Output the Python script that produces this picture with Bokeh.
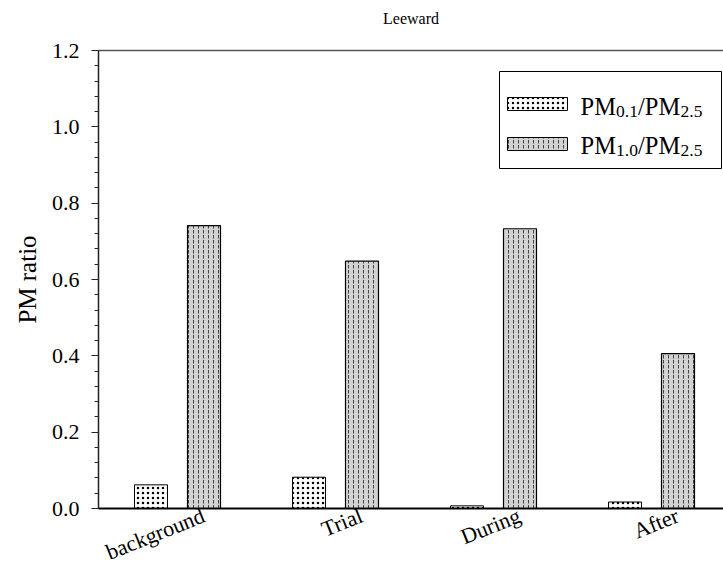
import numpy as np
from bokeh.plotting import figure
from bokeh.models import (Range1d, LinearAxis, FixedTicker,
                          NumeralTickFormatter, ColumnDataSource, Label,
                          BoxAnnotation)
from bokeh.transform import dodge
from bokeh.embed import file_html
from bokeh.resources import INLINE

# ---- data ----
categories = ["background", "Trial", "During", "After"]
pm01_pm25 = [0.062, 0.082, 0.007, 0.017]
pm10_pm25 = [0.741, 0.648, 0.733, 0.406]
y_ticks = [0.0, 0.2, 0.4, 0.6, 0.8, 1.0, 1.2]
title_text = "Leeward"
y_label = "PM ratio"
legend_parts = [("PM", "0.1", "/PM", "2.5"), ("PM", "1.0", "/PM", "2.5")]

FONT = "Liberation Serif"

x_pos = list(range(1, len(categories) + 1))
src = ColumnDataSource(dict(x=x_pos, cat=categories, a=pm01_pm25, b=pm10_pm25))

X0, X1 = 0.5, 0.5 + 625 / 158
p = figure(width=723, height=579, output_backend="svg", toolbar_location=None,
           x_range=Range1d(X0, X1), y_range=Range1d(0, 1.2),
           min_border_left=98, min_border_right=0, min_border_top=50,
           min_border_bottom=71)
p.background_fill_color = "white"
p.border_fill_color = "white"
p.outline_line_color = None
p.xgrid.visible = False
p.ygrid.visible = False

# x axis: category labels, rotated; label range shifted so right-aligned text
# ends a little right of the group centre
shift = 26 / 158
p.extra_x_ranges = {"lab": Range1d(X0 - shift, X1 - shift)}
xa = p.xaxis[0]
xa.x_range_name = "lab"
xa.ticker = FixedTicker(ticks=x_pos)
xa.major_label_overrides = {x: c for x, c in zip(x_pos, categories)}
xa.major_label_orientation = 0.38
xa.major_label_text_font = FONT
xa.major_label_text_font_size = "22px"
xa.major_label_text_color = "black"
xa.major_label_standoff = 6
xa.axis_line_color = "black"
xa.axis_line_width = 2
xa.major_tick_line_color = None
xa.minor_tick_line_color = None
xa.major_tick_out = 0
xa.major_tick_in = 0

# y axis
minor = [round(v, 2) for v in np.arange(0, 1.2001, 0.04)]
ya = p.yaxis[0]
ya.ticker = FixedTicker(ticks=y_ticks, minor_ticks=minor)
ya.formatter = NumeralTickFormatter(format="0.0")
ya.axis_line_color = "#222222"
ya.axis_line_width = 1.5
ya.major_tick_in = 0
ya.major_tick_out = 7
ya.minor_tick_in = 0
ya.minor_tick_out = 4
ya.major_tick_line_color = "#222222"
ya.minor_tick_line_color = "#222222"
ya.major_label_text_font = FONT
ya.major_label_text_font_size = "22px"
ya.major_label_text_color = "black"
ya.major_label_standoff = 12
ya.axis_label = y_label
ya.axis_label_text_font = FONT
ya.axis_label_text_font_size = "25px"
ya.axis_label_text_font_style = "normal"
ya.axis_label_text_color = "black"
ya.axis_label_standoff = 8

# top frame line, carrying the chart title as its axis label
top = LinearAxis(ticker=FixedTicker(ticks=[]), axis_line_color="#555555",
                 axis_line_width=1.5, major_tick_line_color=None,
                 minor_tick_line_color=None, major_tick_out=0, major_tick_in=0,
                 axis_label=title_text, axis_label_text_font=FONT,
                 axis_label_text_font_size="16px",
                 axis_label_text_font_style="normal",
                 axis_label_text_color="black", axis_label_standoff=24)
p.add_layout(top, "above")

# bars
bw = 33 / 158
off = 26.5 / 158
p.vbar(x=dodge("x", -off, range=p.x_range), top="a", width=bw, source=src,
       fill_color="white", line_color="black", line_width=1,
       hatch_pattern="dot", hatch_color="black", hatch_scale=5, hatch_weight=1)
p.vbar(x=dodge("x", off, range=p.x_range), top="b", width=bw, source=src,
       fill_color="#d2d2d2", line_color="black", line_width=1.2,
       hatch_pattern="vertical_dash", hatch_color="#444444", hatch_scale=5,
       hatch_weight=1)

# legend (manual, screen units relative to frame)
p.add_layout(BoxAnnotation(left=401, right=623, bottom=340, top=437,
                           left_units="screen", right_units="screen",
                           bottom_units="screen", top_units="screen",
                           fill_color="white", fill_alpha=1.0,
                           line_color="black", line_width=1, line_alpha=1.0))
sw_styles = [dict(fill_color="white", hatch_pattern="dot", hatch_color="black",
                  hatch_scale=5, hatch_weight=1),
             dict(fill_color="#d2d2d2", hatch_pattern="vertical_dash",
                  hatch_color="#444444", hatch_scale=5, hatch_weight=1)]
row_bottoms = [398, 358]
baselines = [402, 363]
for i, parts in enumerate(legend_parts):
    p.add_layout(BoxAnnotation(left=409, right=469, bottom=row_bottoms[i],
                               top=row_bottoms[i] + 13,
                               left_units="screen", right_units="screen",
                               bottom_units="screen", top_units="screen",
                               fill_alpha=1.0, line_color="black", line_width=1,
                               line_alpha=1.0, **sw_styles[i]))
    main, sub1, mid, sub2 = parts
    w_main, w_sub, w_mid = 35.5, 22.0, 42.5
    xs = [482, 482 + w_main, 482 + w_main + w_sub, 482 + w_main + w_sub + w_mid]
    texts = [main, sub1, mid, sub2]
    sizes = ["24.5px", "17.5px", "24.5px", "17.5px"]
    dys = [0, -5, 0, -5]
    for t, xx, s, dy in zip(texts, xs, sizes, dys):
        p.add_layout(Label(x=xx, y=baselines[i] + dy, x_units="screen",
                           y_units="screen", text=t, text_font=FONT,
                           text_font_size=s, text_baseline="alphabetic",
                           text_align="left", text_color="black"))

open("out.html", "w").write(file_html(p, INLINE))
